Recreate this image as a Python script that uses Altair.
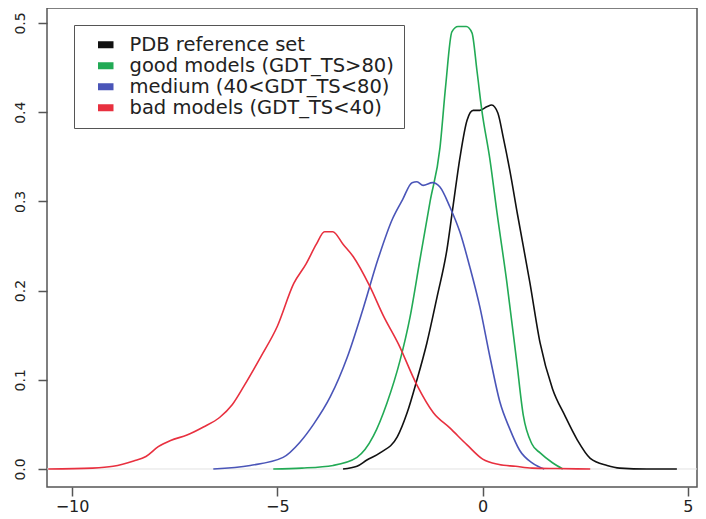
import altair as alt
import pandas as pd

series_names = [
    "PDB reference set",
    "good models (GDT_TS>80)",
    "medium (40<GDT_TS<80)",
    "bad models (GDT_TS<40)",
]
series_colors = ["#111111", "#22aa55", "#4a55b8", "#e8303f"]

pdb_x = [-3.4, -3.06, -2.82, -2.5, -2.08, -1.84, -1.6, -1.36, -1.11, -0.87, -0.72, -0.55,
         -0.38, -0.23, -0.07, 0.1, 0.22, 0.37, 0.5, 0.66, 0.85, 1.15, 1.4, 1.7, 2.0, 2.3,
         2.62, 3.03, 3.34, 4.0, 4.73]
pdb_y = [0.0, 0.003, 0.010, 0.018, 0.036, 0.063, 0.100, 0.141, 0.193, 0.246, 0.295, 0.350,
         0.391, 0.402, 0.402, 0.406, 0.408, 0.399, 0.372, 0.335, 0.285, 0.209, 0.141, 0.090,
         0.060, 0.033, 0.012, 0.004, 0.001, 0.0, 0.0]

good_x = [-5.1, -4.4, -3.64, -3.06, -2.66, -2.33, -2.01, -1.77, -1.53, -1.28, -1.04, -0.9,
          -0.75, -0.6, -0.4, -0.26, -0.14, -0.02, 0.18, 0.35, 0.59, 0.83, 0.99, 1.2, 1.4,
          1.7, 1.95]
good_y = [0.0, 0.001, 0.004, 0.013, 0.037, 0.074, 0.122, 0.170, 0.234, 0.300, 0.360, 0.430,
          0.490, 0.496, 0.496, 0.489, 0.447, 0.402, 0.346, 0.287, 0.209, 0.120, 0.060, 0.028,
          0.018, 0.007, 0.0]

medium_x = [-6.56, -5.66, -4.86, -4.45, -4.12, -3.71, -3.30, -2.91, -2.55, -2.2, -1.95,
            -1.72, -1.6, -1.45, -1.22, -1.04, -0.8, -0.55, -0.31, -0.07, 0.18, 0.42, 0.66,
            0.9, 1.23, 1.5]
medium_y = [0.0, 0.004, 0.013, 0.030, 0.050, 0.081, 0.125, 0.180, 0.235, 0.280, 0.302,
            0.321, 0.322, 0.318, 0.321, 0.316, 0.294, 0.265, 0.226, 0.182, 0.125, 0.075,
            0.045, 0.021, 0.006, 0.0]

bad_x = [-10.58, -9.5, -9.0, -8.5, -8.2, -7.9, -7.6, -7.2, -6.8, -6.4, -6.1, -5.8, -5.4,
         -5.0, -4.6, -4.3, -4.05, -3.85, -3.65, -3.4, -3.15, -2.75, -2.42, -2.05, -1.6,
         -1.2, -0.8, -0.38, 0.0, 0.4, 0.8, 1.2, 1.8, 2.62]
bad_y = [0.0, 0.001, 0.003, 0.009, 0.014, 0.025, 0.032, 0.038, 0.047, 0.058, 0.072, 0.094,
         0.126, 0.160, 0.208, 0.230, 0.252, 0.266, 0.266, 0.252, 0.238, 0.205, 0.172, 0.140,
         0.094, 0.063, 0.046, 0.027, 0.011, 0.005, 0.003, 0.001, 0.0005, 0.0]

x_ticks = [-10, -5, 0, 5]
y_ticks = [0.0, 0.1, 0.2, 0.3, 0.4, 0.5]

rows = []
for name, xs, ys in zip(series_names,
                        [pdb_x, good_x, medium_x, bad_x],
                        [pdb_y, good_y, medium_y, bad_y]):
    for a, b in zip(xs, ys):
        rows.append({"series": name, "x": a, "density": b})
df = pd.DataFrame(rows)

x_scale = alt.Scale(domain=[-10.61, 5.22], nice=False, zero=False)
y_scale = alt.Scale(domain=[-0.0202, 0.5168], nice=False, zero=False)

x_axis = alt.Axis(values=x_ticks, format="d", title=None, grid=False, domain=False,
                  labelFont="DejaVu Sans", labelFontSize=16, labelColor="#222222",
                  tickSize=9, tickColor="#555555", tickWidth=1.5, labelPadding=2,
                  labelOverlap=False, labelFlush=False)
y_axis = alt.Axis(values=y_ticks, format=".1f", title=None, grid=False, domain=False,
                  labelFont="DejaVu Sans", labelFontSize=14, labelColor="#222222",
                  labelAngle=270, labelAlign="center", labelBaseline="alphabetic",
                  tickSize=9, tickColor="#555555", tickWidth=1.5, labelPadding=14,
                  labelOverlap=False, labelFlush=False, minExtent=39, maxExtent=39)

zero_line = alt.Chart(pd.DataFrame({"density": [0.0]})).mark_rule(
    color="#e2e2e2", strokeWidth=1
).encode(y=alt.Y("density:Q", scale=y_scale, axis=y_axis))

lines = alt.Chart(df).mark_line(strokeWidth=1.6, interpolate="monotone").encode(
    x=alt.X("x:Q", scale=x_scale, axis=x_axis),
    y=alt.Y("density:Q", scale=y_scale, axis=y_axis),
    color=alt.Color(
        "series:N",
        scale=alt.Scale(domain=series_names, range=series_colors),
        legend=alt.Legend(
            title=None, orient="none", legendX=27, legendY=17, direction="vertical",
            symbolType="M-1,-0.3H1V0.3H-1Z", symbolSize=144, symbolStrokeWidth=3.5,
            labelFont="DejaVu Sans", labelFontSize=19.5, labelColor="#222222",
            labelLimit=500,
            padding=10, symbolOffset=12, labelOffset=14, rowPadding=0,
            strokeColor="#555555", fillColor="white",
        ),
    ),
)

chart = alt.layer(zero_line, lines).properties(
    width=650, height=479,
    padding={"left": 0, "top": 0, "right": 0, "bottom": 0},
).configure_view(stroke="#555555", strokeWidth=1.5)

chart.save("out.html", embed_options={"renderer": "svg", "actions": False})
